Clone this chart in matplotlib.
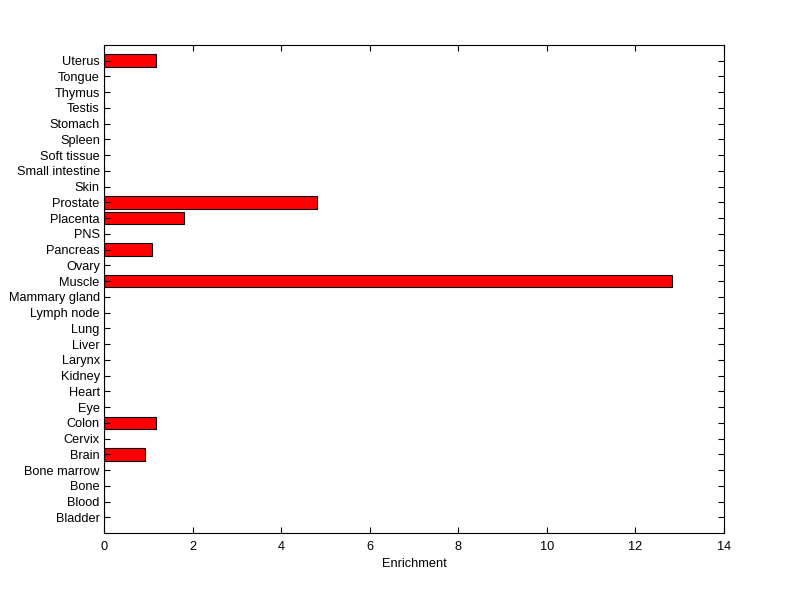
import matplotlib
matplotlib.use("Agg")
import matplotlib.pyplot as plt
import numpy as np

categories = ["Bladder", "Blood", "Bone", "Bone marrow", "Brain", "Cervix", "Colon", "Eye",
              "Heart", "Kidney", "Larynx", "Liver", "Lung", "Lymph node", "Mammary gland",
              "Muscle", "Ovary", "Pancreas", "PNS", "Placenta", "Prostate", "Skin",
              "Small intestine", "Soft tissue", "Spleen", "Stomach", "Testis", "Thymus",
              "Tongue", "Uterus"]
enrichment = [0, 0, 0, 0, 0.93, 0, 1.18, 0,
              0, 0, 0, 0, 0, 0, 0,
              12.83, 0, 1.08, 0, 1.8, 4.8, 0,
              0, 0, 0, 0, 0, 0,
              0, 1.18]
xticks = [0, 2, 4, 6, 8, 10, 12, 14]

plt.rcParams['font.family'] = ['Liberation Sans', 'DejaVu Sans']
fig = plt.figure(figsize=(8.0, 5.99), dpi=100)
ax = fig.add_axes([0.13, 0.11, 0.775, 0.815])
pos = np.arange(1, len(categories) + 1)
ax.barh(pos, enrichment, height=0.8, color='#ff0000', edgecolor='black', linewidth=0.8)
ax.set_ylim(0, len(categories) + 1)
ax.set_xlim(0, 14)
ax.set_yticks(pos)
ax.set_yticklabels(categories, fontsize=9.2)
ax.set_xticks(xticks)
ax.set_xticklabels([str(t) for t in xticks], fontsize=9.2)
ax.set_xlabel("Enrichment", fontsize=9.2, labelpad=3)
ax.tick_params(direction='in', top=True, right=True, length=4, width=0.8)
ax.tick_params(axis='y', pad=3)
ax.tick_params(axis='x', pad=6)
for s in ax.spines.values():
    s.set_linewidth(0.8)
fig.savefig("out.png", dpi=100)
